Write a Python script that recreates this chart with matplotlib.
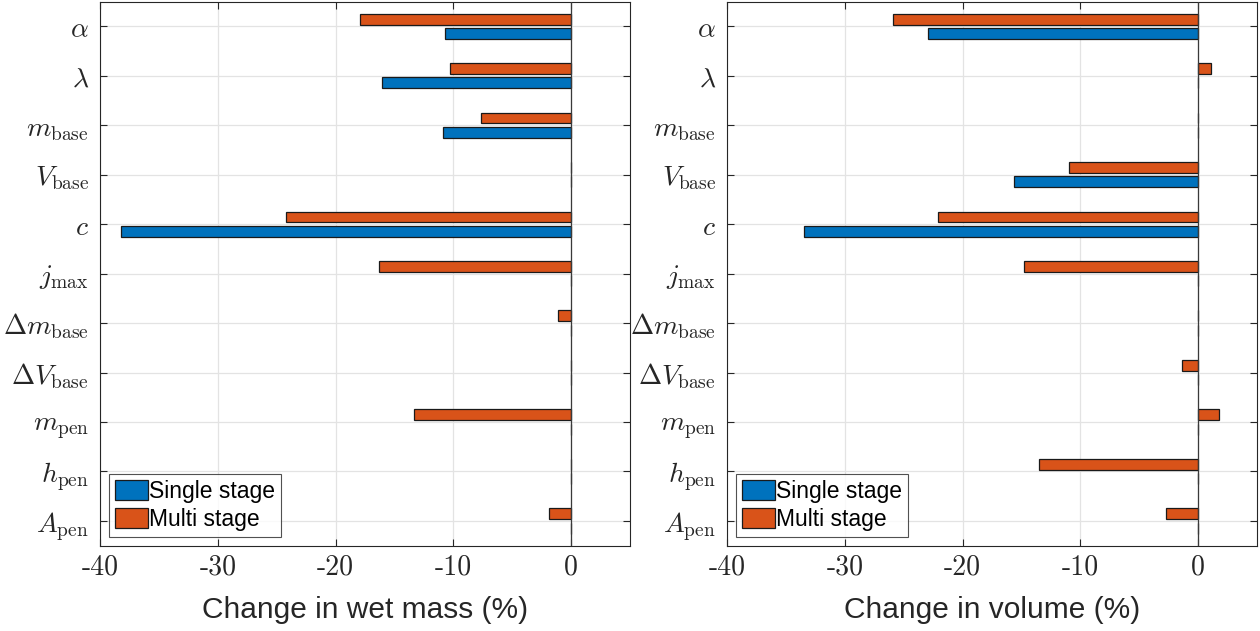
#!/usr/bin/env python3
import matplotlib

matplotlib.use("Agg")
import matplotlib.pyplot as plt
import numpy as np

plt.rcParams["mathtext.fontset"] = "cm"
plt.rcParams["axes.unicode_minus"] = False

PARAMS = [
    r"$\alpha$", r"$\lambda$", r"$m_{\rm base}$", r"$V_{\rm base}$", r"$c$",
    r"$j_{\rm max}$", r"$\Delta m_{\rm base}$", r"$\Delta V_{\rm base}$",
    r"$m_{\rm pen}$", r"$h_{\rm pen}$", r"$A_{\rm pen}$",
]

# Change in wet mass (%)
mass_single = [-10.7, -16.1, -10.9, 0.0, -38.2, 0.0, 0.0, 0.0, 0.0, 0.0, 0.0]
mass_multi = [-17.9, -10.3, -7.65, 0.0, -24.2, -16.3, -1.1, 0.0, -13.3, 0.0, -1.85]

# Change in volume (%)
vol_single = [-22.9, 0.0, 0.0, -15.6, -33.5, 0.0, 0.0, 0.0, 0.0, 0.0, 0.0]
vol_multi = [-25.9, 1.1, 0.0, -11.0, -22.1, -14.8, 0.0, -1.4, 1.8, -13.5, -2.7]

XTICKS = [-40, -30, -20, -10, 0]

BLUE = "#0072BD"
ORANGE = "#D95319"
AX_COLOR = "#262626"


def draw_panel(ax, single, multi, xlabel):
    y = np.arange(1, len(PARAMS) + 1)
    h = 0.22
    off = 0.145
    ax.barh(y + off, single, height=h, color=BLUE, edgecolor="#1a1a1a",
            linewidth=0.9, label="Single stage", zorder=3)
    ax.barh(y - off, multi, height=h, color=ORANGE, edgecolor="#1a1a1a",
            linewidth=0.9, label="Multi stage", zorder=3)
    ax.axvline(0, color="#3a3a3a", linewidth=0.9, zorder=4)

    ax.set_xlim(-40, 5)
    ax.set_ylim(11.5, 0.5)
    ax.set_yticks(y)
    ax.set_yticklabels(PARAMS, fontsize=20)
    ax.set_xticks(XTICKS)
    ax.set_xticklabels([str(t) for t in XTICKS], fontsize=20, family="cmr10")

    ax.grid(True, color="#e3e3e3", linewidth=0.9, zorder=0)
    ax.set_axisbelow(True)
    ax.tick_params(direction="in", length=5, width=0.8, colors=AX_COLOR,
                   top=True, right=True, pad=6)
    ax.tick_params(axis="y", pad=8)
    for sp in ax.spines.values():
        sp.set_color(AX_COLOR)
        sp.set_linewidth(0.8)

    ax.set_xlabel(xlabel, fontsize=21.5, family="Liberation Sans",
                  color="#262626", labelpad=11)

    leg = ax.legend(loc="lower left", prop={"family": "Liberation Sans", "size": 16.5},
                    frameon=True, fancybox=False, handlelength=1.45,
                    handleheight=0.95, handletextpad=0.05, borderpad=0.25,
                    labelspacing=0.2, borderaxespad=0.4)
    leg.get_frame().set_edgecolor("#262626")
    leg.get_frame().set_linewidth(0.8)


fig = plt.figure(figsize=(12.6, 6.31), dpi=100)
ax1 = fig.add_axes([0.0794, 0.1352, 0.4206, 0.8624])
ax2 = fig.add_axes([0.5770, 0.1352, 0.4206, 0.8624])

draw_panel(ax1, mass_single, mass_multi, "Change in wet mass (%)")
draw_panel(ax2, vol_single, vol_multi, "Change in volume (%)")

fig.savefig("out.png", dpi=100)
